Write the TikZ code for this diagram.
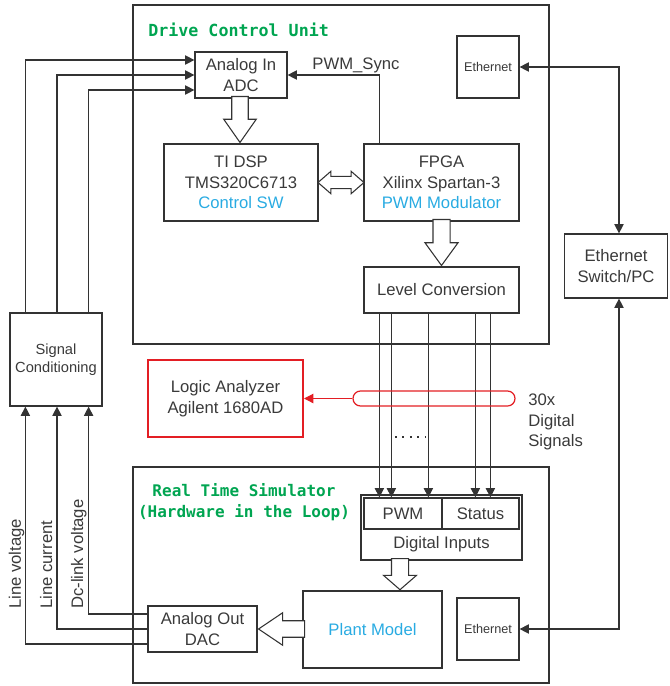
\documentclass[tikz,border=0pt]{standalone}
\usepackage{fontspec}
\setmainfont{Liberation Sans}
\newfontfamily\titleFont{DejaVu Sans Mono}
\usetikzlibrary{arrows.meta,shapes.arrows,calc}
\definecolor{boxGray}{HTML}{333333}
\definecolor{textGray}{HTML}{3A3A3A}
\definecolor{swBlue}{HTML}{29ABE2}
\definecolor{titleGreen}{HTML}{00A551}
\definecolor{probeRed}{HTML}{E31E24}
\newcommand{\boxFont}{\fontsize{12.5}{15.5}\selectfont}
\newcommand{\smallFont}{\fontsize{9.5}{11}\selectfont}
\newcommand{\unitTitle}[1]{{\titleFont\bfseries\color{titleGreen}#1}}
\newcommand{\swText}[1]{{\color{swBlue}#1}}

\begin{document}
\begin{tikzpicture}[x=0.75pt, y=-0.75pt, font=\boxFont, text=textGray]
  \tikzset{
    unit/.style={draw=boxGray, line width=1.5pt, inner sep=0pt},
    block/.style={draw=boxGray, line width=0.9pt, align=center, inner sep=0pt},
    sig/.style={draw=boxGray, line width=0.8pt, -{Triangle[length=7pt,width=7pt]}},
    both/.style={sig, {Triangle[length=7pt,width=7pt]}-{Triangle[length=7pt,width=7pt]}},
    hollow/.style={single arrow, draw=boxGray, line width=0.8pt, fill=white,
      inner xsep=0pt, inner ysep=5.8pt, single arrow head extend=6pt},
    vlabel/.style={rotate=90, anchor=base west, inner sep=0pt}
  }
  \useasboundingbox (0,0) rectangle (669,686);

  % drive control unit
  \node[unit, minimum width=312pt, minimum height=254.25pt] (dcu) at (341,174.5) {};
  \node[anchor=west, inner sep=0pt] (dcuTitle) at (148,30) {\unitTitle{Drive Control Unit}};
  \node[block, minimum width=69pt, minimum height=34.5pt] (adc) at (241,75) {Analog In\\ADC};
  \node[block, minimum width=115.5pt, minimum height=57.75pt] (dsp) at (241,182.5)
    {TI DSP\\TMS320C6713\\\swText{Control SW}};
  \node[block, minimum width=116.25pt, minimum height=57.75pt] (fpga) at (441.5,182.5)
    {FPGA\\Xilinx Spartan-3\\\swText{PWM Modulator}};
  \node[block, minimum width=46.5pt, minimum height=46.5pt, font=\smallFont] (ethA) at (488,67) {Ethernet};
  \node[block, minimum width=116.25pt, minimum height=34.5pt] (level) at (441.5,290) {Level Conversion};
  \node[hollow, rotate=-90, anchor=tip, single arrow tip angle=70, minimum height=34.5pt] (adcArrow)
    at ($(dsp.north)+(-1,0)$) {};
  \node[hollow, double arrow, inner ysep=4.2pt, double arrow tip angle=82, double arrow head extend=3.75pt,
    minimum height=34.5pt] (busArrow) at ($(dsp.east)!.5!(fpga.west)$) {};
  \node[hollow, rotate=-90, anchor=tip, single arrow tip angle=72, inner ysep=6pt, minimum height=34.5pt] (fpgaArrow)
    at (level.north) {};
  \node (syncLabel) at (356,65) {PWM\_Sync};
  \draw[sig] ($(fpga.north west)+(16,0)$) |- (adc.east);

  % outside
  \node[block, minimum width=77.25pt, minimum height=48pt] (switch) at (616,266) {Ethernet\\Switch/PC};
  \node[block, minimum width=69pt, minimum height=69.75pt, font=\fontsize{11}{13.5}\selectfont] (sigcond) at (56,359.5)
    {Signal\\Conditioning};
  \node[block, draw=probeRed, line width=1.5pt, minimum width=116.25pt, minimum height=57.75pt] (logic) at (225.5,398.5)
    {Logic Analyzer\\Agilent 1680AD};

  % real time simulator
  \node[unit, minimum width=312pt, minimum height=162pt] (rts) at (341,575) {};
  \node[align=center, inner sep=0pt, font=\fontsize{12}{15.75}\selectfont] (rtsTitle) at (244,502.5)
    {\unitTitle{Real Time Simulator}\\\unitTitle{(Hardware in the Loop)}};
  \node[block, minimum width=120.75pt, minimum height=48.75pt] (dig) at (441.5,527.5) {};
  \node[block, minimum width=58.5pt, minimum height=23.25pt] (pwm) at (403,513.5) {PWM};
  \node[block, minimum width=57.75pt, minimum height=23.25pt] (status) at (480.5,513.5) {Status};
  \node (digText) at ($(dig.south)+(0,-16)$) {Digital Inputs};
  \node[block, minimum width=104.25pt, minimum height=57.75pt] (plant) at (372.5,629.5) {\swText{Plant Model}};
  \node[block, minimum width=46.5pt, minimum height=46.5pt, font=\smallFont] (ethB) at (488,629) {Ethernet};
  \node[block, minimum width=81.75pt, minimum height=34.5pt] (dac) at (202.5,629) {Analog Out\\DAC};
  \node[hollow, rotate=-90, anchor=tip, single arrow tip angle=98, inner ysep=6pt, minimum height=23.25pt] (digArrow)
    at ($(plant.north)+(27.5,0)$) {};
  \node[hollow, rotate=180, anchor=tip, single arrow tip angle=68, minimum height=34.5pt] (plantArrow)
    at (dac.east) {};

  % analog signals
  \draw[sig] ($(sigcond.north west)+(16,0)$) |- ($(adc.west)+(0,-15)$);
  \draw[sig] ($(sigcond.north)+(1,0)$) |- (adc.west);
  \draw[sig] ($(sigcond.north east)+(-14,0)$) |- ($(adc.west)+(0,15)$);
  \draw[sig] ($(dac.west)+(0,15)$) -| ($(sigcond.south west)+(16,0)$);
  \draw[sig] (dac.west) -| ($(sigcond.south)+(1,0)$);
  \draw[sig] ($(dac.west)+(0,-15)$) -| ($(sigcond.south east)+(-14,0)$);
  \node[vlabel] (lineVoltage) at (21,609) {Line voltage};
  \node[vlabel] (lineCurrent) at (52,609) {Line current};
  \node[vlabel] (dcVoltage) at (83,609) {Dc-link voltage};

  % digital signals
  \foreach \dx [count=\i] in {16,28,65,112,127} {
    \path (level.south west) ++(\dx,0) coordinate (lvl\i);
    \draw[sig] (lvl\i) -- (lvl\i |- pwm.north);
  }
  \draw[boxGray, line width=1.2pt, dash pattern=on 1.2pt off 4.4pt] (395,437) coordinate (dotA) -- (425,437) coordinate (dotB);
  \node[draw=probeRed, line width=0.9pt, rounded corners=5.6pt, minimum width=121.5pt, minimum height=11.25pt, inner sep=0pt]
    (probe) at (434,398.5) {};
  \draw[probeRed, line width=0.9pt, -{Triangle[length=7pt,width=7pt]}] (probe.west) -- (logic.east);
  \node[anchor=west, align=left, inner sep=0pt] (sigCount) at (528,422) {30x\\Digital\\Signals};

  % ethernet
  \draw[both] (ethA.east) -| ($(switch.north)+(3,0)$);
  \draw[both] (ethB.east) -| ($(switch.south)+(3,0)$);
\end{tikzpicture}
\end{document}
